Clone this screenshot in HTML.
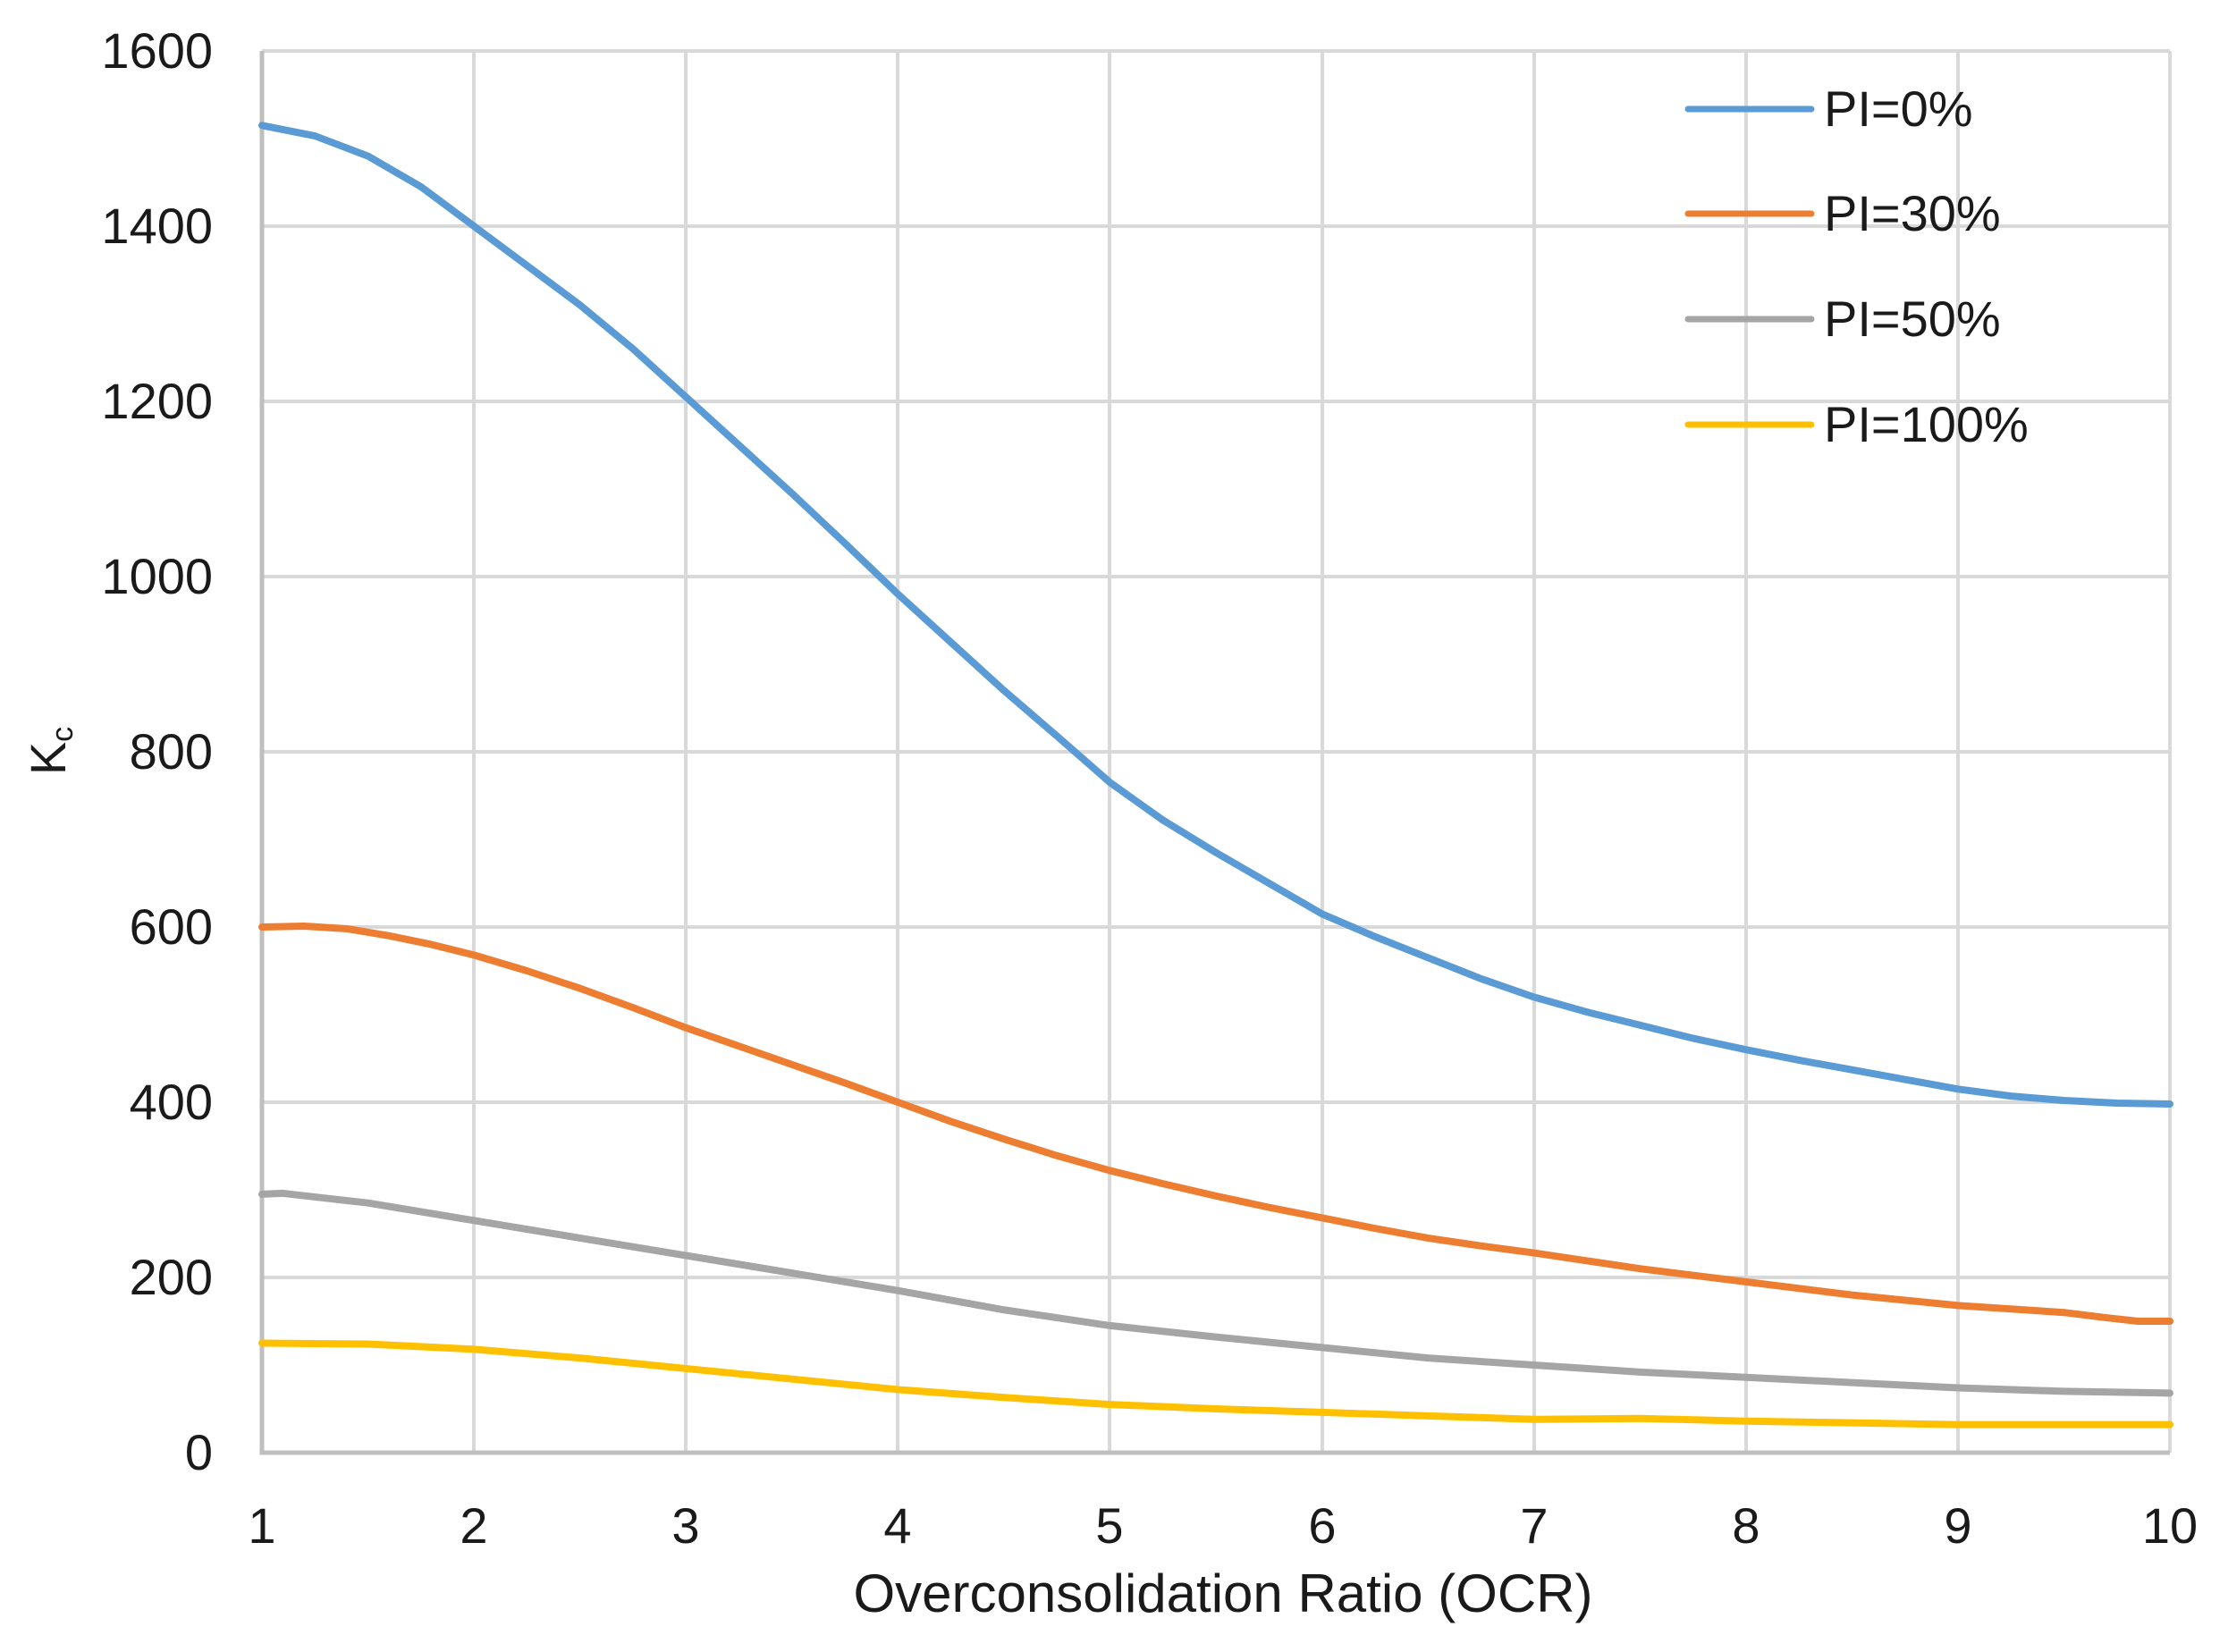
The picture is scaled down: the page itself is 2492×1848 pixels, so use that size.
<!DOCTYPE html>
<html><head><meta charset="utf-8"><style>
html,body{margin:0;padding:0;background:#fff;}
svg{display:block}
text{font-family:"Liberation Sans",sans-serif;fill:#1a1a1a}
</style></head><body>
<svg width="2492" height="1848" viewBox="0 0 2492 1848" xmlns="http://www.w3.org/2000/svg">
<rect width="2492" height="1848" fill="#fff"/>
<g stroke="#d9d9d9" stroke-width="4">
<line x1="293" y1="57" x2="2427" y2="57"/>
<line x1="293" y1="253" x2="2427" y2="253"/>
<line x1="293" y1="449" x2="2427" y2="449"/>
<line x1="293" y1="645" x2="2427" y2="645"/>
<line x1="293" y1="841" x2="2427" y2="841"/>
<line x1="293" y1="1037" x2="2427" y2="1037"/>
<line x1="293" y1="1233" x2="2427" y2="1233"/>
<line x1="293" y1="1429" x2="2427" y2="1429"/>
<line x1="530" y1="57" x2="530" y2="1625"/>
<line x1="767" y1="57" x2="767" y2="1625"/>
<line x1="1004" y1="57" x2="1004" y2="1625"/>
<line x1="1241" y1="57" x2="1241" y2="1625"/>
<line x1="1479" y1="57" x2="1479" y2="1625"/>
<line x1="1716" y1="57" x2="1716" y2="1625"/>
<line x1="1953" y1="57" x2="1953" y2="1625"/>
<line x1="2190" y1="57" x2="2190" y2="1625"/>
<line x1="2427" y1="57" x2="2427" y2="1625"/>
</g>
<g stroke="#bfbfbf" stroke-width="5" fill="none">
<polyline points="293,57 293,1625 2427,1625"/>
</g>
<g transform="translate(293,1625) scale(237.111,-0.98)" fill="none" stroke-linejoin="round" stroke-linecap="round">
<polyline vector-effect="non-scaling-stroke" stroke="#5b9bd5" stroke-width="8" points="0,1515 0.25,1503 0.5,1480 0.75,1445 1,1400 1.25,1355 1.5,1310 1.75,1260 2,1205 2.25,1150 2.5,1095 2.75,1038 3,980 3.25,925 3.5,870 3.75,818 4,765 4.25,722 4.5,685 4.75,650 5,615 5.25,589 5.5,565 5.75,541 6,520 6.25,503 6.5,488 6.75,473 7,460 7.25,448 7.5,437 7.75,426 8,415 8.25,407 8.5,402 8.75,399 9,398"/>
<polyline vector-effect="non-scaling-stroke" stroke="#ed7d31" stroke-width="8" points="0,600 0.2,601 0.4,598 0.6,590 0.8,580 1,568 1.25,550 1.5,530 1.75,508 2,485 2.25,464 2.5,443 2.75,422 3,400 3.25,378 3.5,358 3.75,339 4,322 4.25,307 4.5,293 4.75,280 5,268 5.25,256 5.5,245 5.75,236 6,228 6.5,210 7,195 7.5,180 8,168 8.5,160 8.7,154 8.85,150 9,150"/>
<polyline vector-effect="non-scaling-stroke" stroke="#a5a5a5" stroke-width="8" points="0,295 0.1,296 0.5,285 1,265 1.5,245 2,225 2.5,205 3,185 3.5,163 4,145 4.5,132 5,120 5.5,108 6,100 6.5,92 7,86 7.5,80 8,74 8.5,70 9,68"/>
<polyline vector-effect="non-scaling-stroke" stroke="#ffc000" stroke-width="8" points="0,125 0.5,124 1,118 1.5,108 2,96 2.5,84 3,72 3.5,63 4,55 4.5,50 5,46 5.5,42 6,38 6.5,39 7,36 7.5,34 8,32 9,32"/>
</g>
<g font-size="56" text-anchor="end">
<text x="238" y="76">1600</text>
<text x="238" y="272">1400</text>
<text x="238" y="468">1200</text>
<text x="238" y="664">1000</text>
<text x="238" y="860">800</text>
<text x="238" y="1056">600</text>
<text x="238" y="1252">400</text>
<text x="238" y="1448">200</text>
<text x="238" y="1644">0</text>
</g>
<g font-size="56" text-anchor="middle">
<text x="293" y="1726">1</text>
<text x="530" y="1726">2</text>
<text x="767" y="1726">3</text>
<text x="1004" y="1726">4</text>
<text x="1241" y="1726">5</text>
<text x="1479" y="1726">6</text>
<text x="1716" y="1726">7</text>
<text x="1953" y="1726">8</text>
<text x="2190" y="1726">9</text>
<text x="2427" y="1726">10</text>
<text x="1368" y="1803" font-size="60">Overconsolidation Ratio (OCR)</text>
</g>
<text transform="translate(73,840) rotate(-90)" font-size="56" text-anchor="middle">K<tspan font-size="34" dy="8">c</tspan></text>
<g stroke-width="7" stroke-linecap="round">
<line x1="1888" y1="122" x2="2026" y2="122" stroke="#5b9bd5"/>
<line x1="1888" y1="239" x2="2026" y2="239" stroke="#ed7d31"/>
<line x1="1888" y1="357" x2="2026" y2="357" stroke="#a5a5a5"/>
<line x1="1888" y1="475" x2="2026" y2="475" stroke="#ffc000"/>
</g>
<g font-size="56">
<text x="2040" y="141">PI=0%</text>
<text x="2040" y="258">PI=30%</text>
<text x="2040" y="376">PI=50%</text>
<text x="2040" y="494">PI=100%</text>
</g>
</svg>
</body></html>
